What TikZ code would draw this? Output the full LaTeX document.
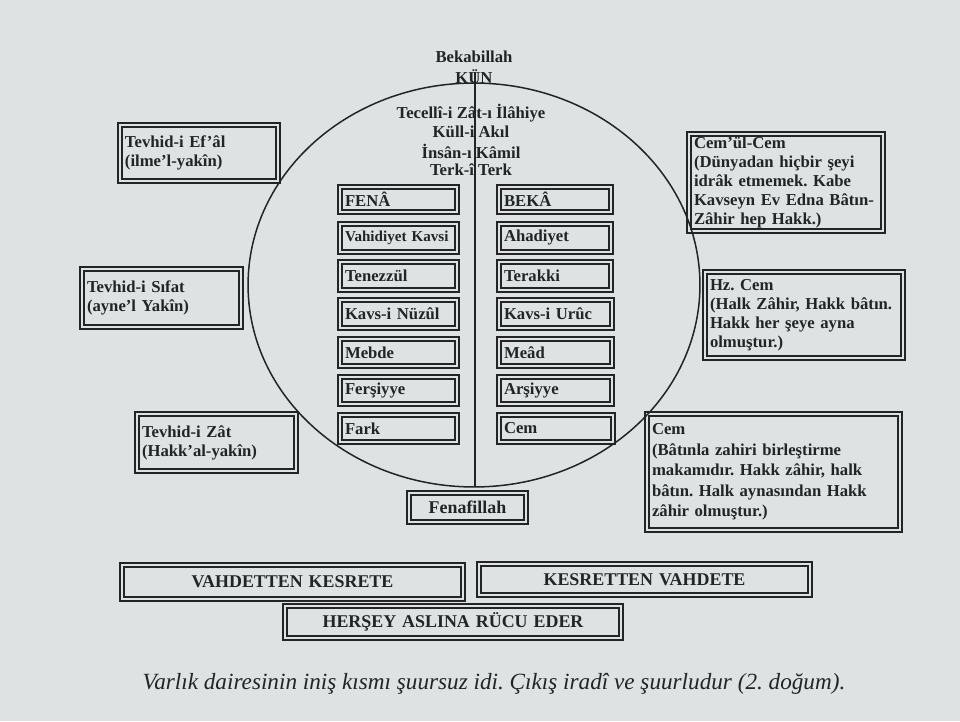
\documentclass[tikz,border=0pt]{standalone}
\usepackage{fontspec}
\setmainfont{Liberation Serif}
\frenchspacing
\definecolor{paper}{RGB}{222,226,227}
\definecolor{ink}{RGB}{34,36,38}
\newcommand{\dbx}[7][]{%
 \pgfmathsetmacro{\dbxw}{(#5-#3)*0.02}%
 \pgfmathsetmacro{\dbxh}{(#6-#4)*0.02}%
 \pgfmathsetmacro{\dbxt}{(#5-#3-14)*0.02}%
 \node[dbox,minimum width=\dbxw cm,minimum height=\dbxh cm,text width=\dbxt cm,#1] (#2) at ({(#3+#5)/2},{(#4+#6)/2}) {#7};
 \draw[innerl] ([xshift=0.08cm,yshift=0.08cm]#2.south west) rectangle ([xshift=-0.08cm,yshift=-0.08cm]#2.north east);}
\begin{document}
\begin{tikzpicture}[x=0.02cm,y=-0.02cm,
  every node/.style={text=ink},
  bf/.style={font=\fontsize{9.5}{10.9}\selectfont\bfseries},
  big/.style={font=\fontsize{10.2}{12}\selectfont\bfseries, align=center},
  dbox/.style={draw=ink, line width=1.1pt, inner sep=0pt, outer sep=0pt, align=left, bf},
  innerl/.style={draw=ink, line width=0.75pt},
  ttxt/.style={bf, inner sep=0pt}]
\useasboundingbox[fill=paper] (0,0) rectangle (960,721);

% circle and axis
\draw[ink, line width=0.85pt] (474,285) ellipse [x radius=4.52cm, y radius=4.04cm];
\coordinate (ltop) at (475,72);
\coordinate (lbot) at (475,487);
\draw[ink, line width=0.9pt] (ltop) -- (lbot);

% top texts
\node[ttxt] (beka) at (474,57) {Bekabillah};
\node[ttxt] (kun) at (474,77) {KÜN};
\node[ttxt] (t1) at (471,113) {Tecellî-i Zât-ı İlâhiye};
\node[ttxt] (t2) at (471,132) {Küll-i Akıl};
\node[ttxt] (t3) at (471,151) {İnsân-ı Kâmil};
\node[ttxt] (t4) at (471,170) {Terk-î Terk};

% left column
\dbx{fena}{338}{185}{459}{214}{FENÂ}
\dbx[font=\fontsize{8.6}{10}\selectfont\bfseries]{vahid}{338}{222}{459}{254}{Vahidiyet Kavsi}
\dbx{tenez}{338}{260}{459}{292}{Tenezzül}
\dbx{nuzul}{338}{298}{459}{330}{Kavs-i Nüzûl}
\dbx{mebde}{338}{337}{459}{368}{Mebde}
\dbx{fers}{338}{375}{459}{406}{Ferşiyye}
\dbx{fark}{338}{413}{459}{444}{Fark}

% right column
\dbx{beka2}{497}{185}{613}{214}{BEKÂ}
\dbx{ahad}{497}{222}{613}{254}{Ahadiyet}
\dbx{terak}{497}{260}{613}{292}{Terakki}
\dbx{uruc}{497}{298}{614}{330}{Kavs-i Urûc}
\dbx{mead}{497}{337}{614}{368}{Meâd}
\dbx{arsi}{497}{375}{614}{406}{Arşiyye}
\dbx{cem1}{497}{413}{615}{444}{Cem}

\dbx[big]{fenaf}{407}{491}{528}{524}{Fenafillah}

% left side boxes
\dbx{efal}{118}{123}{280}{183}{Tevhid-i Ef’âl\\(ilme’l-yakîn)}
\dbx{sifat}{80}{267}{243}{329}{Tevhid-i Sıfat\\(ayne’l Yakîn)}
\dbx{zat}{135}{412}{298}{473}{Tevhid-i Zât\\(Hakk’al-yakîn)}

% right side boxes
\dbx{cemulcem}{687}{132}{885}{233}{Cem’ül-Cem\\(Dünyadan hiçbir şeyi\\idrâk etmemek. Kabe\\Kavseyn Ev Edna Bâtın-\\Zâhir hep Hakk.)}
\dbx{hzcem}{703}{270}{905}{360}{Hz. Cem\\(Halk Zâhir, Hakk bâtın.\\Hakk her şeye ayna\\olmuştur.)}
\dbx[font=\fontsize{9.5}{11.6}\selectfont\bfseries]{cem2}{645}{412}{902}{532}{Cem\\(Bâtınla zahiri birleştirme\\makamıdır. Hakk zâhir, halk\\bâtın. Halk aynasından Hakk\\zâhir olmuştur.)}

% bottom boxes
\dbx[big]{vk}{120}{563}{465}{601}{VAHDETTEN KESRETE}
\dbx[big]{kv}{477}{562}{812}{597}{KESRETTEN VAHDETE}
\dbx[big]{hr}{283}{604}{623}{640}{HERŞEY ASLINA RÜCU EDER}

\node[font=\fontsize{13.2}{15}\selectfont\itshape, inner sep=0pt] (cap) at (494,684) {Varlık dairesinin iniş kısmı şuursuz idi. Çıkış iradî ve şuurludur (2. doğum).};
\end{tikzpicture}
\end{document}
